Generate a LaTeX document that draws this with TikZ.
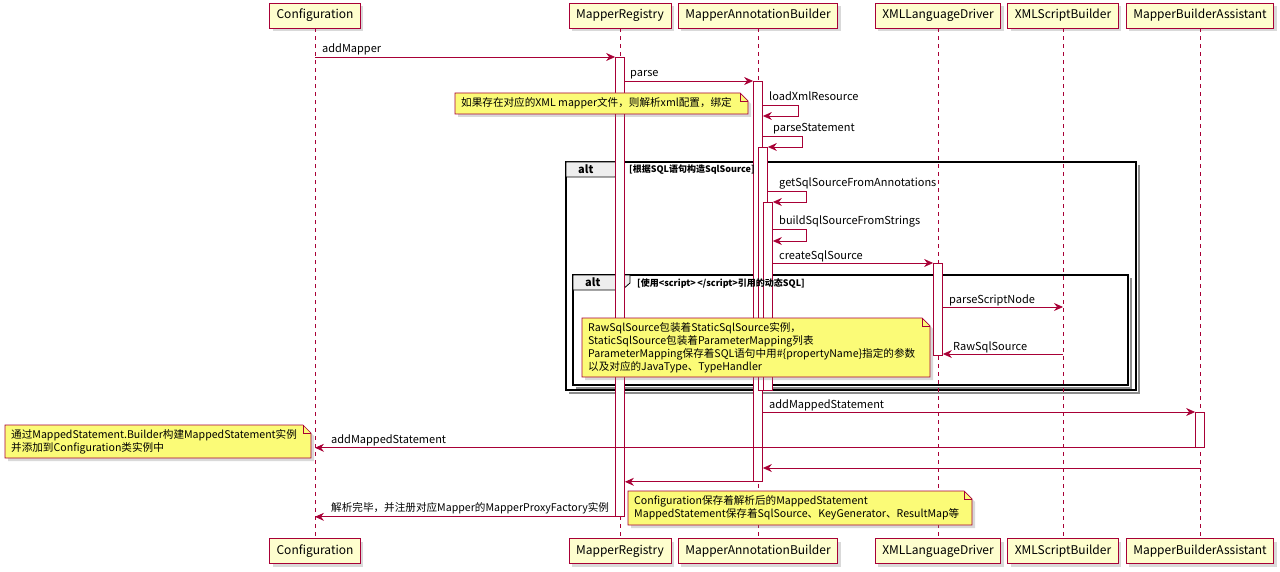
\documentclass[tikz,border=0pt]{standalone}
\usepackage{fontspec}
\setmainfont{Noto Sans CJK SC}
\usetikzlibrary{arrows.meta,shadows}
\definecolor{umlred}{HTML}{A80036}
\definecolor{umlbox}{HTML}{FEFECE}
\definecolor{umlnote}{HTML}{FBFB77}
\definecolor{umltab}{HTML}{EEEEEE}
\tikzset{
	shade/.style={drop shadow={shadow xshift=3pt, shadow yshift=-3pt, opacity=0.3}},
	part/.style={draw=umlred, fill=umlbox, line width=0.9pt, minimum height=25pt, inner xsep=7pt, font=\fontsize{12}{14}\selectfont, shade},
	life/.style={umlred, dash pattern=on 4pt off 4pt, line width=0.6pt},
	bar/.style={draw=umlred, fill=white, line width=0.8pt, minimum width=9pt, inner sep=0pt, anchor=north},
	msg/.style={umlred, line width=0.8pt, -{Stealth[length=9pt,width=8pt,inset=3pt]}},
	lbl/.style={anchor=base west, inner sep=0pt, font=\fontsize{11}{13}\selectfont},
	cjklbl/.style={lbl, font=\fontsize{10.6}{13}\selectfont},
	note/.style={draw=umlred, fill=umlnote, line width=0.7pt, shade},
	notetxt/.style={anchor=north west, inner sep=0pt, align=left, font=\fontsize{10.6}{13}\selectfont},
	frame/.style={draw=black, line width=1.5pt},
	frameshade/.style={draw=black!45, line width=1.5pt},
	tab/.style={draw=black, fill=umltab, line width=0.8pt},
	tabtxt/.style={anchor=base west, inner sep=0pt, font=\bfseries\fontsize{11}{13}\selectfont},
	cond/.style={anchor=base west, inner sep=0pt, font=\bfseries\fontsize{9}{10}\selectfont}
}
\newcommand{\notebox}[4]{%
	\draw[note] (#1,#2) -- (#3-8,#2) -- (#3,#2+8) -- (#3,#4) -- (#1,#4) -- cycle;
	\draw[umlred, line width=0.7pt] (#3-8,#2) -- (#3-8,#2+8) -- (#3,#2+8);}
\begin{document}
\begin{tikzpicture}[x=1pt, y=-1pt]
	\useasboundingbox (0,0) rectangle (1280,572);

	\draw[frameshade] (1139,165) -- (1139,393) -- (569,393);
	\draw[frame] (566,162) rectangle (1136,390);
	\draw[tab] (566,162) -- (623,162) -- (623,170) -- (615,177) -- (566,177) -- cycle;
	\node[tabtxt] (altA) at (578,174) {alt};

	\draw[frameshade] (1131,278) -- (1131,388) -- (576,388);
	\draw[frame] (573,275) rectangle (1128,385);
	\draw[tab] (573,275) -- (630,275) -- (630,283) -- (622,290) -- (573,290) -- cycle;
	\node[tabtxt] (altB) at (585,287) {alt};

	\node[part] (cfgT) at (315,15.5) {Configuration};
	\node[part] (regT) at (620,15.5) {MapperRegistry};
	\node[part] (mabT) at (758,15.5) {MapperAnnotationBuilder};
	\node[part] (xldT) at (938,15.5) {XMLLanguageDriver};
	\node[part] (xsbT) at (1063,15.5) {XMLScriptBuilder};
	\node[part] (mbaT) at (1200,15.5) {MapperBuilderAssistant};
	\node[part] (cfgB) at (315,551) {Configuration};
	\node[part] (regB) at (620,551) {MapperRegistry};
	\node[part] (mabB) at (758,551) {MapperAnnotationBuilder};
	\node[part] (xldB) at (938,551) {XMLLanguageDriver};
	\node[part] (xsbB) at (1063,551) {XMLScriptBuilder};
	\node[part] (mbaB) at (1200,551) {MapperBuilderAssistant};

	\foreach \p in {cfg,reg,mab,xld,xsb,mba}
		\draw[life] (\p T) -- (\p B);

	\node[bar, minimum height=459pt] (regA) at (620,57) {};
	\node[bar, minimum height=400pt] (mabA) at (758,81) {};
	\node[bar, minimum height=243pt] (mabS) at (763,147) {};
	\node[bar, minimum height=188pt] (mabC) at (768,202) {};
	\node[bar, minimum height=92pt] (xldA) at (938,263) {};
	\node[bar, minimum height=35pt] (mbaA) at (1200,412) {};

	\node[cond] (condA) at (629,173) {[根据SQL语句构造SqlSource]};
	\node[cond] (condB) at (637,286) {[使用<script>\,</script>引用的动态SQL]};

	\draw[msg] (cfgT |- regA.north) -- (regA.north west);
	\node[lbl] (mAdd) at (322,53) {addMapper};
	\draw[msg] (regA.east |- mabA.north) -- (mabA.north west);
	\node[lbl] (mParse) at (630,77) {parse};
	\draw[msg] (mabA.east |- 0,105) -- ++(35,0) -- ++(0,11) -- (mabA.east |- 0,116);
	\node[lbl] (mLoad) at (769,101) {loadXmlResource};
	\draw[msg] (mabA.east |- 0,136) -- ++(39,0) |- (mabS.north east);
	\node[lbl] (mStmt) at (773,132) {parseStatement};
	\draw[msg] (mabS.east |- 0,191) -- ++(38,0) |- (mabC.north east);
	\node[lbl] (mGet) at (779,187) {getSqlSourceFromAnnotations};
	\draw[msg] (mabC.east |- 0,229) -- ++(33,0) -- ++(0,12) -- (mabC.east |- 0,241);
	\node[lbl] (mBuild) at (779,225) {buildSqlSourceFromStrings};
	\draw[msg] (mabC.east |- xldA.north) -- (xldA.north west);
	\node[lbl] (mCreate) at (779,259) {createSqlSource};
	\draw[msg] (xldA.east |- 0,307) -- (xsbT |- 0,307);
	\node[lbl] (mScript) at (949,303) {parseScriptNode};
	\draw[msg] (xsbT |- 0,354) -- (xldA.east |- 0,354);
	\node[lbl] (mRaw) at (953,350) {RawSqlSource};
	\draw[msg] (mabA.east |- mbaA.north) -- (mbaA.north west);
	\node[lbl] (mAddMs) at (769,408) {addMappedStatement};
	\draw[msg] (mbaA.south west) -- (cfgT |- mbaA.south);
	\node[lbl] (mAddCfg) at (331,443) {addMappedStatement};
	\draw[msg] (mbaT |- 0,468) -- (mabA.east |- 0,468);
	\draw[msg] (mabA.south west) -- (regA.east |- mabA.south);
	\draw[msg] (regA.south west) -- (cfgT |- regA.south);
	\node[cjklbl] (mDone) at (331,511) {解析完毕，并注册对应Mapper的MapperProxyFactory实例};

	\notebox{455}{93}{748}{114}
	\node[notetxt] (nXml) at (461,97) {如果存在对应的XML mapper文件，则解析xml配置，绑定};
	\notebox{582}{318}{930}{377}
	\node[notetxt] (nRaw) at (588,322) {RawSqlSource包装着StaticSqlSource实例，\\StaticSqlSource包装着ParameterMapping列表\\ParameterMapping保存着SQL语句中用\#\{propertyName\}指定的参数\\以及对应的JavaType、TypeHandler};
	\notebox{5}{425}{311}{458}
	\node[notetxt] (nBuild) at (11,429) {通过MappedStatement.Builder构建MappedStatement实例\\并添加到Configuration类实例中};
	\notebox{628}{491}{972}{525}
	\node[notetxt] (nCfg) at (634,495) {Configuration保存着解析后的MappedStatement\\MappedStatement保存着SqlSource、KeyGenerator、ResultMap等};
\end{tikzpicture}
\end{document}
